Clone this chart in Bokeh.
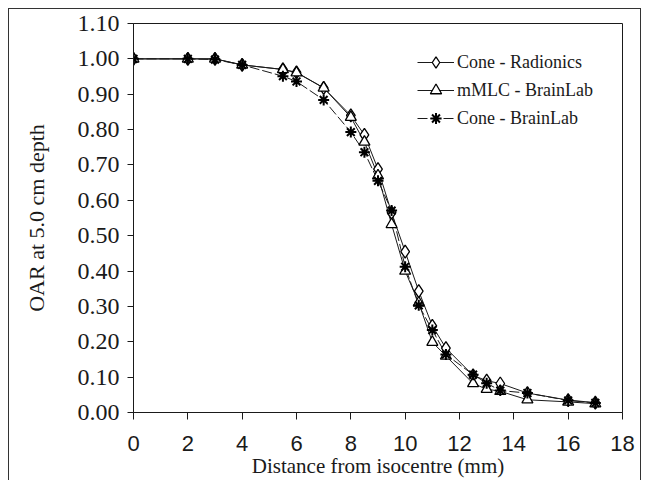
from bokeh.plotting import figure
from bokeh.models import (Range1d, FixedTicker, NumeralTickFormatter, Legend,
                          LegendItem, ColumnDataSource, InlineStyleSheet)
from bokeh.embed import file_html
from bokeh.resources import INLINE

# Off-axis ratio profiles at 5.0 cm depth
distance_mm = [0, 2, 3, 4, 5.5, 6, 7, 8, 8.5, 9, 9.5, 10, 10.5, 11, 11.5,
               12.5, 13, 13.5, 14.5, 16, 17]
cone_radionics = [1.00, 1.00, 1.00, 0.983, 0.970, 0.962, 0.918, 0.840, 0.785,
                  0.688, 0.565, 0.455, 0.343, 0.245, 0.182, 0.105, 0.090,
                  0.082, 0.055, 0.035, 0.028]
mmlc_brainlab = [1.00, 1.00, 1.00, 0.983, 0.970, 0.961, 0.918, 0.835, 0.765,
                 0.670, 0.532, 0.400, 0.310, 0.199, 0.160, 0.082, 0.066,
                 0.060, 0.036, 0.030, 0.025]
cone_brainlab = [1.00, 1.00, 0.998, 0.983, 0.951, 0.936, 0.884, 0.793, 0.736,
                 0.655, 0.571, 0.412, 0.303, 0.233, 0.164, 0.107, 0.083,
                 0.062, 0.055, 0.034, 0.027]

x_ticks = [0, 2, 4, 6, 8, 10, 12, 14, 16, 18]
y_ticks = [0.0, 0.1, 0.2, 0.3, 0.4, 0.5, 0.6, 0.7, 0.8, 0.9, 1.0, 1.1]

src = ColumnDataSource(dict(x=distance_mm, rad=cone_radionics,
                            mmlc=mmlc_brainlab, cbl=cone_brainlab))

SERIF = "Liberation Serif"
SANS = "Liberation Sans"
INK = "#1a1a1a"

# thin box drawn around the whole chart (top, left and right edges)
outer_box = InlineStyleSheet(css="""
:host { position: relative; }
:host::after {
  content: "";
  position: absolute;
  left: 8px; top: 8px; width: 631px; height: 472px;
  border-left: 1px solid #333; border-top: 1px solid #333;
  border-right: 1px solid #333;
  pointer-events: none;
  z-index: 10;
}
""")

p = figure(width=647, height=480, output_backend="svg", toolbar_location=None,
           x_range=Range1d(0, 18), y_range=Range1d(0, 1.1),
           min_border_left=133, min_border_right=25, min_border_top=23,
           min_border_bottom=68)
p.stylesheets = [outer_box]
p.xgrid.visible = False
p.ygrid.visible = False
p.outline_line_color = INK
p.outline_line_width = 1
p.background_fill_color = "white"
p.border_fill_color = "white"

# axes
p.xaxis.ticker = FixedTicker(ticks=x_ticks)
p.yaxis.ticker = FixedTicker(ticks=y_ticks)
p.yaxis.formatter = NumeralTickFormatter(format="0.00")
for ax in (p.xaxis, p.yaxis):
    ax.axis_line_color = INK
    ax.major_tick_line_color = INK
    ax.minor_tick_line_color = None
    ax.major_tick_in = 0
    ax.major_tick_out = 6
    ax.axis_label_text_font_style = "normal"
    ax.axis_label_text_color = INK
    ax.major_label_text_color = INK
p.xaxis.major_tick_out = 7
p.xaxis.major_label_text_font = SANS
p.xaxis.major_label_text_font_size = "22px"
p.xaxis.major_label_standoff = 16
p.yaxis.major_label_text_font = SERIF
p.yaxis.major_label_text_font_size = "24px"
p.yaxis.major_label_standoff = 8
p.xaxis.axis_label = "Distance from isocentre (mm)"
p.yaxis.axis_label = "OAR at 5.0 cm depth"
p.xaxis.axis_label_text_font = SERIF
p.yaxis.axis_label_text_font = SERIF
p.xaxis.axis_label_text_font_size = "21px"
p.yaxis.axis_label_text_font_size = "22px"
p.xaxis.axis_label_standoff = 0
p.yaxis.axis_label_standoff = 26

# series lines
l_rad = p.line("x", "rad", source=src, line_color=INK, line_width=1)
l_mmlc = p.line("x", "mmlc", source=src, line_color=INK, line_width=1)
l_cbl = p.line("x", "cbl", source=src, line_color=INK, line_width=1,
               line_dash="10 3")

# series markers
m_rad = p.scatter("x", "rad", source=src, marker="diamond", size=13,
                  fill_color="white", line_color="black", line_width=1.3)
m_mmlc = p.scatter("x", "mmlc", source=src, marker="triangle", size=11,
                   fill_color="white", line_color="black", line_width=1.3)
m_cbl = p.scatter("x", "cbl", source=src, marker="asterisk", size=11,
                  line_color="black", line_width=2)

legend = Legend(items=[
    LegendItem(label="Cone - Radionics", renderers=[l_rad, m_rad]),
    LegendItem(label="mMLC - BrainLab", renderers=[l_mmlc, m_mmlc]),
    LegendItem(label="Cone - BrainLab", renderers=[l_cbl, m_cbl]),
], location=(284, 280))
legend.background_fill_alpha = 0
legend.border_line_color = None
legend.label_text_font = SERIF
legend.label_text_font_size = "18px"
legend.label_text_color = INK
legend.glyph_width = 37
legend.glyph_height = 28
legend.label_height = 28
legend.label_standoff = 3
legend.spacing = 0
legend.padding = 0
legend.margin = 0
p.add_layout(legend)

open("out.html", "w").write(file_html(p, INLINE))
